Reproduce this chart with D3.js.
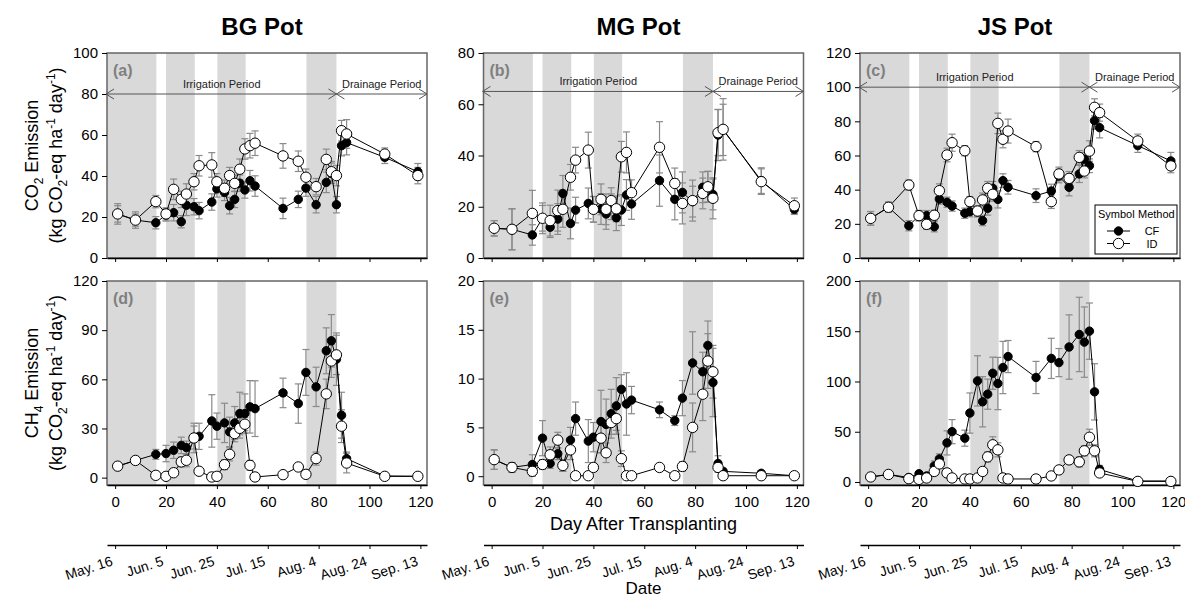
<!DOCTYPE html>
<html lang="en">
<head>
<meta charset="utf-8" />
<title>CO2 and CH4 emission</title>
<script src="https://d3js.org/d3.v7.min.js"></script>
<style>
  body { margin: 0; background: #fff; }
  svg text { font-family: "Liberation Sans", Arial, sans-serif; }
</style>
</head>
<body>
<div id="container"></div>
<script>
// sampling days (day after transplanting)
var days = [1, 8, 16, 20, 23, 26, 28, 31, 33, 38, 40, 43, 45, 47, 49, 51, 53, 55, 66, 72, 75, 79, 83, 85, 87, 89, 91, 106, 119];

var pots = ["BG Pot", "MG Pot", "JS Pot"];
var panelLetters = ["(a)", "(b)", "(c)", "(d)", "(e)", "(f)"];
var dayTicks = [0, 20, 40, 60, 80, 100, 120];
var dateLabels = ["May. 16", "Jun. 5", "Jun. 25", "Jul. 15", "Aug. 4", "Aug. 24", "Sep. 13"];
var irrigationBands = [[-3.2, 16.2], [20, 31.3], [40.2, 51.3], [75.2, 87]];
var drainDay = 87;

// CO2 emission
var bgCO2CF = [21.5, 18.5, 17.2, 21, 22.1, 17.7, 25.7, 25, 23.1, 27.3, 33.7, 32, 25.5, 28.6, 36.5, 33.2, 37.7, 35.1, 24.2, 28.6, 34.1, 26, 36.9, 41.3, 26, 54.8, 56.3, 49.1, 42.1];
var bgCO2ID = [21.5, 18.5, 27.5, 21.5, 33.5, 28.6, 31.2, 37.2, 45, 45.4, 37.2, 34, 40.2, 36.4, 43.3, 53.2, 54.8, 56, 49.8, 47.2, 39.4, 34.8, 48.1, 42.1, 40.2, 62.1, 60.5, 50.7, 40.2];
var bgCO2CFErr = [4, 3, 3, 3, 4, 3, 5, 4, 4, 4, 4, 4, 4, 4, 4, 4, 5, 5, 5, 4, 4, 4, 5, 5, 4, 5, 6, 3, 4];
var bgCO2IDErr = [5, 4, 3, 3, 5, 4, 5, 4, 5, 6, 4, 4, 4, 4, 5, 5, 6, 6, 6, 5, 4, 4, 5, 5, 5, 5, 7, 3, 4];

var mgCO2CF = [11.6, 11.2, 9, 15.5, 12, 15.2, 25.2, 13.5, 18.7, 21.3, 19, 19.1, 17.2, 20, 15.7, 18.7, 24.6, 21.1, 30.2, 22.9, 25.6, 22, 27.6, 27.8, 24.8, 48, 50, 30.2, 19];
var mgCO2ID = [11.6, 11.2, 17.4, 15.5, 14.6, 18.5, 19, 31.5, 38.2, 42.1, 19, 22.9, 19, 22.4, 19.2, 39.5, 41.2, 25.5, 43.2, 29.1, 21.3, 22.4, 25.2, 27.8, 23.3, 48.9, 50.2, 29.8, 20.4];
var mgCO2CFErr = [3, 8, 4, 5, 4, 6, 7, 6, 5, 6, 5, 6, 6, 5, 5, 6, 6, 6, 10, 8, 8, 6, 6, 6, 6, 10, 10, 5, 2];
var mgCO2IDErr = [3, 8, 9, 6, 6, 8, 7, 5, 5, 7, 5, 6, 6, 5, 5, 6, 8, 5, 10, 6, 8, 8, 6, 6, 8, 9, 12, 5, 3];

var jsCO2CF = [23.2, 29.7, 18.9, 24.8, 24.8, 18.3, 34.5, 32.6, 30.4, 26.2, 27.1, 27, 21.9, 29.1, 40.8, 34.3, 45.3, 41.4, 36.5, 39.2, 48, 41.4, 49.2, 57.8, 54, 80.4, 76.3, 65.8, 56.8];
var jsCO2ID = [23.2, 29.7, 42.7, 24.8, 19.7, 25, 39.4, 60.3, 67.5, 62.8, 33, 27.5, 34, 40.8, 37.3, 78.8, 69.5, 74.3, 65.2, 33, 49.2, 46.6, 58.9, 50.9, 62.6, 88.2, 85.1, 68.5, 53.9];
var jsCO2CFErr = [4, 3, 3, 3, 3, 3, 3, 3, 3, 3, 3, 3, 3, 4, 4, 5, 4, 4, 4, 4, 4, 5, 5, 4, 4, 5, 6, 4, 5];
var jsCO2IDErr = [4, 3, 3, 3, 3, 3, 4, 4, 5, 3, 3, 3, 4, 4, 4, 6, 5, 7, 3, 4, 4, 4, 4, 4, 6, 5, 5, 4, 4];

// CH4 emission
var bgCH4CF = [7, 10.5, 14.2, 14.7, 16.7, 19.7, 18.3, 24.5, 25.2, 34.6, 31.4, 33.4, 27.9, 33.4, 39.1, 39.1, 43.2, 42.1, 51.7, 45.2, 64.2, 55.4, 77.4, 83.5, 72.3, 38.1, 11.6, 1, 0.8];
var bgCH4ID = [7, 10.5, 1.4, 0.8, 3, 9.6, 10.6, 24.2, 3.9, 0.4, 0.8, 7.9, 14.2, 26.9, 30.1, 32.6, 7.5, 0.4, 1.8, 6.5, 2, 11.6, 51.1, 71.2, 74.9, 31.4, 8.9, 0.8, 0.8];
var bgCH4CFErr = [1.5, 2, 3, 5, 5, 5, 4, 7, 8, 16, 8, 12, 9, 10, 13, 12, 16, 17, 9, 12, 14, 12, 14, 16, 16, 14, 4, 1, 1];
var bgCH4IDErr = [1.5, 2, 1, 0.5, 1, 3, 4, 9, 2, 0.5, 0.5, 3, 4, 5, 6, 4, 3, 0.5, 1, 2, 1, 4, 9, 10, 12, 10, 6, 0.5, 0.5];

var mgCH4CF = [1.7, 0.9, 1.2, 3.9, 1.3, 2.3, 1.1, 3.7, 5.9, 3.6, 4.0, 5.6, 5.3, 6.4, 7.2, 8.9, 7.4, 7.8, 6.8, 5.7, 8.0, 11.6, 10.7, 13.4, 9.6, 1.3, 0.5, 0.3, 0.05];
var mgCH4ID = [1.7, 0.9, 0.5, 1.2, 2.2, 3.7, 1.1, 2.7, 0.05, 0.05, 0.9, 3.9, 2.4, 5.5, 5.9, 1.8, 0.05, 0.05, 0.9, 0.05, 1.0, 5.0, 8.4, 11.8, 10.7, 0.9, 0.05, 0.05, 0.05];
var mgCH4CFErr = [1, 0.5, 1, 1.8, 0.5, 0.6, 0.6, 1.3, 1.7, 2.2, 1.5, 3.2, 2.6, 2.5, 2.9, 1.5, 3.2, 1.4, 0.8, 0.5, 1.8, 3.2, 2.0, 2.5, 3.5, 0.8, 0.3, 0.2, 0.1];
var mgCH4IDErr = [1, 0.5, 0.5, 0.5, 0.8, 0.8, 0.6, 1, 0.2, 0.2, 0.4, 1.5, 1, 1.2, 1.2, 0.8, 0.2, 0.2, 0.3, 0.2, 0.5, 2.5, 2.7, 2.8, 2.7, 0.5, 0.2, 0.1, 0.1];

var jsCH4CF = [5, 7.5, 4.5, 8.2, 6, 16, 23, 38.9, 50.1, 43.6, 68.6, 100.6, 79.8, 87.4, 108.2, 98, 113.9, 124.8, 104, 123, 118.8, 134.3, 146.8, 139.2, 150.1, 89.7, 12.5, 1, 1];
var jsCH4ID = [5, 7.5, 3.3, 2.6, 4, 10.5, 18, 9, 4, 3, 3, 4, 10.5, 25, 37, 32, 4, 3, 3, 6, 12, 22, 20, 31, 44.5, 31, 9, 0.6, 0.6];
var jsCH4CFErr = [1, 1, 1, 2, 2, 5, 5, 12, 12, 8, 20, 25, 25, 15, 16, 26, 26, 16, 16, 20, 14, 32, 37, 35, 28, 28, 4, 1, 1];
var jsCH4IDErr = [1, 1, 1, 1, 1, 2, 3, 3, 1, 1, 1, 1, 3, 5, 8, 7, 1, 1, 1, 1, 2, 3, 5, 5, 8, 6, 2, 0.5, 0.5];

var bgCO2Ticks = [0, 20, 40, 60, 80, 100];
var mgCO2Ticks = [0, 20, 40, 60, 80];
var jsCO2Ticks = [0, 20, 40, 60, 80, 100, 120];
var bgCH4Ticks = [0, 30, 60, 90, 120];
var mgCH4Ticks = [0, 5, 10, 15, 20];
var jsCH4Ticks = [0, 50, 100, 150, 200];

// ---- layout
var width = 1185, height = 597;
var colLeft = [107, 483.5, 860];
var panelW = 320;
var rowTop = [53, 281];
var panelH = [205, 204];
var xDomain = [-3.2, 122.6];

var svg = d3.select("#container").append("svg")
  .attr("width", width).attr("height", height);

var panels = [
  {row: 0, col: 0, cf: bgCO2CF, id: bgCO2ID, cfErr: bgCO2CFErr, idErr: bgCO2IDErr, yDom: [0, 100], ticks: bgCO2Ticks, arrow: 80},
  {row: 0, col: 1, cf: mgCO2CF, id: mgCO2ID, cfErr: mgCO2CFErr, idErr: mgCO2IDErr, yDom: [0, 80], ticks: mgCO2Ticks, arrow: 65},
  {row: 0, col: 2, cf: jsCO2CF, id: jsCO2ID, cfErr: jsCO2CFErr, idErr: jsCO2IDErr, yDom: [0, 120], ticks: jsCO2Ticks, arrow: 100},
  {row: 1, col: 0, cf: bgCH4CF, id: bgCH4ID, cfErr: bgCH4CFErr, idErr: bgCH4IDErr, yDom: [-4.5, 120], ticks: bgCH4Ticks},
  {row: 1, col: 1, cf: mgCH4CF, id: mgCH4ID, cfErr: mgCH4CFErr, idErr: mgCH4IDErr, yDom: [-0.9, 20], ticks: mgCH4Ticks},
  {row: 1, col: 2, cf: jsCH4CF, id: jsCH4ID, cfErr: jsCH4CFErr, idErr: jsCH4IDErr, yDom: [-3, 200], ticks: jsCH4Ticks}
];

function styleAxis(sel, fontSize) {
  sel.selectAll("line").attr("stroke", "#000");
  sel.selectAll("text").attr("fill", "#000").style("font-size", fontSize + "px");
}

function drawErrors(g, x, y, vals, errs) {
  var pts = days.map(function (d, i) { return {day: d, v: vals[i], e: errs[i]}; });
  var eb = g.append("g").attr("stroke", "#8a8a8a").attr("stroke-width", 1.2);
  pts.forEach(function (p) {
    var cx = x(p.day), y0 = y(p.v - p.e), y1 = y(p.v + p.e);
    eb.append("line").attr("x1", cx).attr("x2", cx).attr("y1", y0).attr("y2", y1);
    eb.append("line").attr("x1", cx - 3.5).attr("x2", cx + 3.5).attr("y1", y0).attr("y2", y0);
    eb.append("line").attr("x1", cx - 3.5).attr("x2", cx + 3.5).attr("y1", y1).attr("y2", y1);
  });
}

function drawSeries(g, x, y, vals, filled) {
  var pts = days.map(function (d, i) { return [d, vals[i]]; });
  var line = d3.line().x(function (d) { return x(d[0]); }).y(function (d) { return y(d[1]); });
  g.append("path").datum(pts).attr("d", line)
    .attr("fill", "none").attr("stroke", "#000").attr("stroke-width", 1);
  g.selectAll(null).data(pts).enter().append("circle")
    .attr("cx", function (d) { return x(d[0]); })
    .attr("cy", function (d) { return y(d[1]); })
    .attr("r", filled ? 4.2 : 5.2)
    .attr("fill", filled ? "#000" : "#fff")
    .attr("stroke", "#000").attr("stroke-width", 1);
}

function chevron(g, tipX, tipY, dir) {
  g.append("path")
    .attr("d", "M" + (tipX + dir * 8) + "," + (tipY - 5) + "L" + tipX + "," + tipY + "L" + (tipX + dir * 8) + "," + (tipY + 5))
    .attr("fill", "none").attr("stroke", "#555").attr("stroke-width", 1);
}

panels.forEach(function (p, k) {
  var left = colLeft[p.col], top = rowTop[p.row], h = panelH[p.row];
  var x = d3.scaleLinear().domain(xDomain).range([left, left + panelW]);
  var y = d3.scaleLinear().domain(p.yDom).range([top + h, top]);
  var g = svg.append("g");

  // irrigation shading
  g.selectAll(null).data(irrigationBands).enter().append("rect")
    .attr("x", function (d) { return x(d[0]); })
    .attr("width", function (d) { return x(d[1]) - x(d[0]); })
    .attr("y", top).attr("height", h)
    .attr("fill", "#d9d9d9");

  // frame
  g.append("rect").attr("x", left).attr("y", top).attr("width", panelW).attr("height", h)
    .attr("fill", "none").attr("stroke", "#666").attr("stroke-width", 1.5);

  // y axis
  var ya = g.append("g").attr("transform", "translate(" + left + ",0)")
    .call(d3.axisLeft(y).tickValues(p.ticks).tickSize(5).tickPadding(4).tickSizeOuter(0));
  ya.select(".domain").remove();
  styleAxis(ya, 15);

  // x axis (days)
  var xa = g.append("g").attr("transform", "translate(0," + (top + h) + ")")
    .call(d3.axisBottom(x).tickValues(dayTicks).tickSize(4).tickPadding(7).tickSizeOuter(0)
      .tickFormat(p.row === 0 ? "" : d3.format("d")));
  xa.select(".domain").attr("stroke", "#000").attr("stroke-width", 1.5);
  styleAxis(xa, 15);

  // period arrows
  if (p.arrow !== undefined) {
    var ay = y(p.arrow);
    var ag = g.append("g");
    ag.append("line").attr("x1", left).attr("x2", left + panelW).attr("y1", ay).attr("y2", ay)
      .attr("stroke", "#555").attr("stroke-width", 1);
    chevron(ag, left - 1, ay, 1);
    chevron(ag, x(drainDay), ay, -1);
    chevron(ag, x(drainDay), ay, 1);
    chevron(ag, left + panelW, ay, -1);
    ag.append("text").attr("x", (left + x(drainDay)) / 2).attr("y", ay - 6)
      .attr("text-anchor", "middle").style("font-size", "11px").attr("fill", "#222")
      .text("Irrigation Period");
    ag.append("text").attr("x", (x(drainDay) + left + panelW) / 2).attr("y", ay - 6)
      .attr("text-anchor", "middle").style("font-size", "11px").attr("fill", "#222")
      .text("Drainage Period");
  }

  // data
  drawErrors(g, x, y, p.cf, p.cfErr);
  drawErrors(g, x, y, p.id, p.idErr);
  drawSeries(g, x, y, p.cf, true);
  drawSeries(g, x, y, p.id, false);

  // panel letter
  g.append("text").attr("x", left + 6).attr("y", top + 23)
    .style("font-size", "16px").style("font-weight", "bold").attr("fill", "#808080")
    .text(panelLetters[k]);

  // date axis under bottom row
  if (p.row === 1) {
    var da = g.append("g").attr("transform", "translate(0,545)")
      .call(d3.axisBottom(x).tickValues(dayTicks).tickSize(4).tickSizeOuter(0)
        .tickFormat(function (d, i) { return dateLabels[i]; }));
    da.select(".domain").attr("stroke", "#000").attr("stroke-width", 1.5);
    styleAxis(da, 14);
    da.selectAll("text")
      .attr("x", 0).attr("y", 0).attr("dy", 0)
      .attr("text-anchor", "end")
      .attr("transform", "translate(-2,20) rotate(-18)");
  }
});

// titles
pots.forEach(function (t, i) {
  svg.append("text").attr("x", colLeft[i] + panelW / 2 - 5).attr("y", 35)
    .attr("text-anchor", "middle").style("font-size", "24px").style("font-weight", "bold")
    .text(t);
});

// y axis titles
function yTitle(cy, gas, sub) {
  var t1 = svg.append("text").attr("transform", "translate(38," + cy + ") rotate(-90)")
    .attr("text-anchor", "middle").style("font-size", "18px");
  t1.append("tspan").text(gas);
  t1.append("tspan").attr("dy", 5).style("font-size", "12px").text(sub);
  t1.append("tspan").attr("dy", -5).text(" Emission");

  var t2 = svg.append("text").attr("transform", "translate(62," + cy + ") rotate(-90)")
    .attr("text-anchor", "middle").style("font-size", "18px");
  t2.append("tspan").text("(kg CO");
  t2.append("tspan").attr("dy", 5).style("font-size", "12px").text("2");
  t2.append("tspan").attr("dy", -5).text("-eq ha");
  t2.append("tspan").attr("dy", -7).style("font-size", "12px").text("-1");
  t2.append("tspan").attr("dy", 7).text(" day");
  t2.append("tspan").attr("dy", -7).style("font-size", "12px").text("-1");
  t2.append("tspan").attr("dy", 7).text(")");
}
yTitle(rowTop[0] + panelH[0] / 2, "CO", "2");
yTitle(rowTop[1] + panelH[1] / 2, "CH", "4");

// x titles
svg.append("text").attr("x", colLeft[1] + panelW / 2).attr("y", 530)
  .attr("text-anchor", "middle").style("font-size", "18px").text("Day After Transplanting");
svg.append("text").attr("x", colLeft[1] + panelW / 2).attr("y", 594)
  .attr("text-anchor", "middle").style("font-size", "17px").text("Date");

// legend in panel (c)
var lg = svg.append("g");
lg.append("rect").attr("x", 1095).attr("y", 205).attr("width", 82).attr("height", 49)
  .attr("fill", "#fff").attr("stroke", "#000").attr("stroke-width", 1);
lg.append("text").attr("x", 1098).attr("y", 218).style("font-size", "11px").text("Symbol");
lg.append("text").attr("x", 1138).attr("y", 218).style("font-size", "11px").text("Method");
var legendRows = [{label: "CF", filled: true}, {label: "ID", filled: false}];
legendRows.forEach(function (r, i) {
  var cy = 231 + i * 12.5;
  lg.append("line").attr("x1", 1107).attr("x2", 1130).attr("y1", cy).attr("y2", cy)
    .attr("stroke", "#000");
  lg.append("circle").attr("cx", 1118.5).attr("cy", cy).attr("r", r.filled ? 4.2 : 5.2)
    .attr("fill", r.filled ? "#000" : "#fff").attr("stroke", "#000");
  lg.append("text").attr("x", 1152).attr("y", cy + 4).attr("text-anchor", "middle")
    .style("font-size", "11px").text(r.label);
});
</script>
</body>
</html>
